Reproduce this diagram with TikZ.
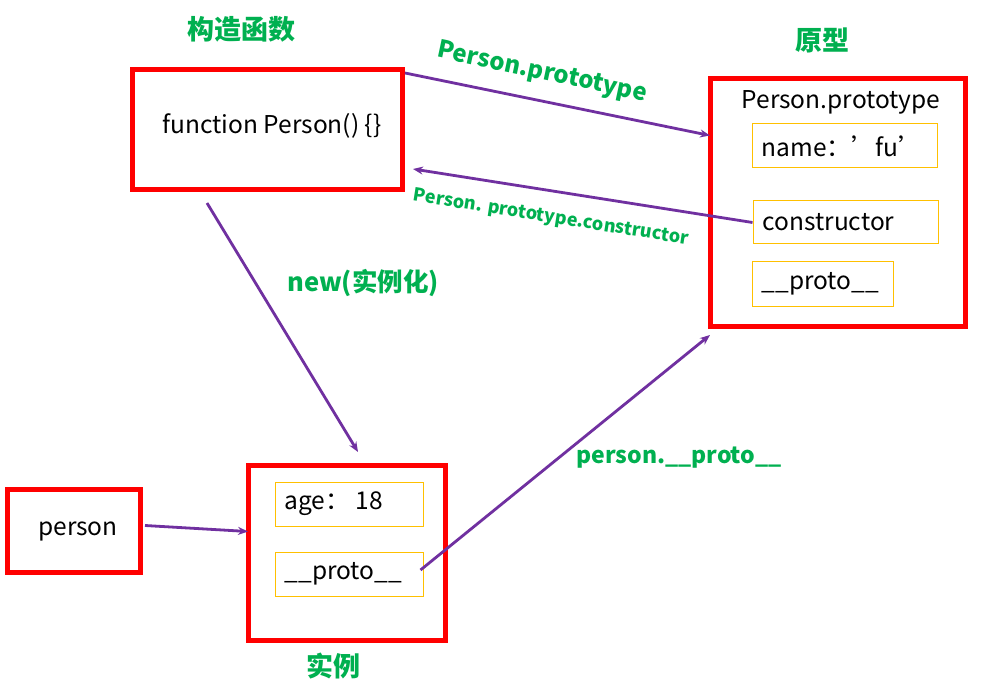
\documentclass[tikz,border=0pt]{standalone}
\usepackage{fontspec}
\setmainfont{Noto Sans CJK SC}
\usetikzlibrary{arrows.meta,calc}
\definecolor{cred}{HTML}{FF0000}
\definecolor{cyel}{HTML}{FFC000}
\definecolor{cgrn}{HTML}{00B050}
\definecolor{cpur}{HTML}{7030A0}
\begin{document}
\begin{tikzpicture}[x=1pt,y=-1pt,
  redbox/.style={draw=cred,line width=5pt,inner sep=0pt,outer sep=0pt},
  ybox/.style={draw=cyel,line width=1pt,inner sep=0pt,minimum height=44pt},
  txt/.style={font=\fontsize{24.5}{26}\selectfont,inner sep=0pt},
  intxt/.style={txt,anchor=west},
  gtitle/.style={text=cgrn,font=\fontsize{27}{29}\selectfont\bfseries,inner sep=0pt},
  glabel/.style={text=cgrn,font=\fontsize{24}{26}\selectfont\bfseries,inner sep=0pt},
  arr/.style={draw=cpur,line width=2.8pt,-{Stealth[length=10pt,width=8pt]}}]
\useasboundingbox (0,0) rectangle (984,684);
\fill[white] (0,0) rectangle (984,684);

% constructor
\node[redbox,minimum width=270pt,minimum height=120pt] (ctor) at (267,130) {};
\node[txt] (ctortxt) at (272,126) {function Person() \{\}};
\node[gtitle] (ctortitle) at (241,29) {构造函数};

% prototype
\node[redbox,minimum width=255pt,minimum height=247pt] (proto) at (837.5,202.5) {};
\node[gtitle] (prototitle) at (822,40) {原型};
\node[txt] (prototxt) at (841,102) {Person.prototype};
\node[ybox,minimum width=185pt] (pname) at (844.5,146) {};
\node[intxt] (pnametxt) at ($(pname.west)+(10,0)$) {name：’fu’};
\node[ybox,minimum width=185pt,minimum height=43pt] (pctor) at (845.5,222.5) {};
\node[intxt] (pctortxt) at ($(pctor.west)+(10,0)$) {constructor};
\node[ybox,minimum width=141pt] (pproto) at (822.5,284) {};
\node[intxt] (pprototxt) at ($(pproto.west)+(10,0)$) {\_\_proto\_\_};

% instance
\node[redbox,minimum width=197pt,minimum height=175pt] (inst) at (346.5,552.5) {};
\node[gtitle] (insttitle) at (333,666) {实例};
\node[ybox,minimum width=148pt] (iage) at (349,504) {};
\node[intxt] (iagetxt) at ($(iage.west)+(10,0)$) {age：\ 18};
\node[ybox,minimum width=148pt] (iproto) at (349,574) {};
\node[intxt] (iprototxt) at ($(iproto.west)+(10,0)$) {\_\_proto\_\_};

% person
\node[redbox,minimum width=133pt,minimum height=83pt] (person) at (73.5,530.5) {};
\node[txt] (persontxt) at (78,531) {person};

% arrows
\coordinate (a1s) at ($(ctor.north east)+(3,3)$);
\coordinate (a1e) at ($(proto.west)+(0,-67)$);
\draw[arr] (a1s) -- (a1e);
\node[glabel,rotate=-12] (l1) at (542,73) {Person.prototype};

\coordinate (a2e) at ($(ctor.east)+(11,39)$);
\draw[arr] (pctor.west) -- (a2e);
\node[text=cgrn,font=\fontsize{18}{20}\selectfont\bfseries,inner sep=0pt,rotate=-9] (l2) at (551,218) {Person. prototype.constructor};

\coordinate (a3s) at ($(ctor.south west)+(75,13)$);
\coordinate (a3e) at ($(inst.north west)+(110,-13)$);
\draw[arr] (a3s) -- (a3e);
\node[glabel,font=\fontsize{25.5}{27}\selectfont\bfseries] (l3) at (363,283) {new(实例化)};

\coordinate (a4s) at ($(person.east)+(5,-5)$);
\draw[arr] (a4s) -- ($(inst.west)+(0,-21)$);

\coordinate (a5s) at ($(iproto.east)+(-3,-4)$);
\coordinate (a5e) at ($(proto.south west)+(0,9)$);
\draw[arr] (a5s) -- (a5e);
\node[glabel,font=\fontsize{23}{25}\selectfont\bfseries] (l5) at (679,458) {person.\_\_proto\_\_};
\end{tikzpicture}
\end{document}
